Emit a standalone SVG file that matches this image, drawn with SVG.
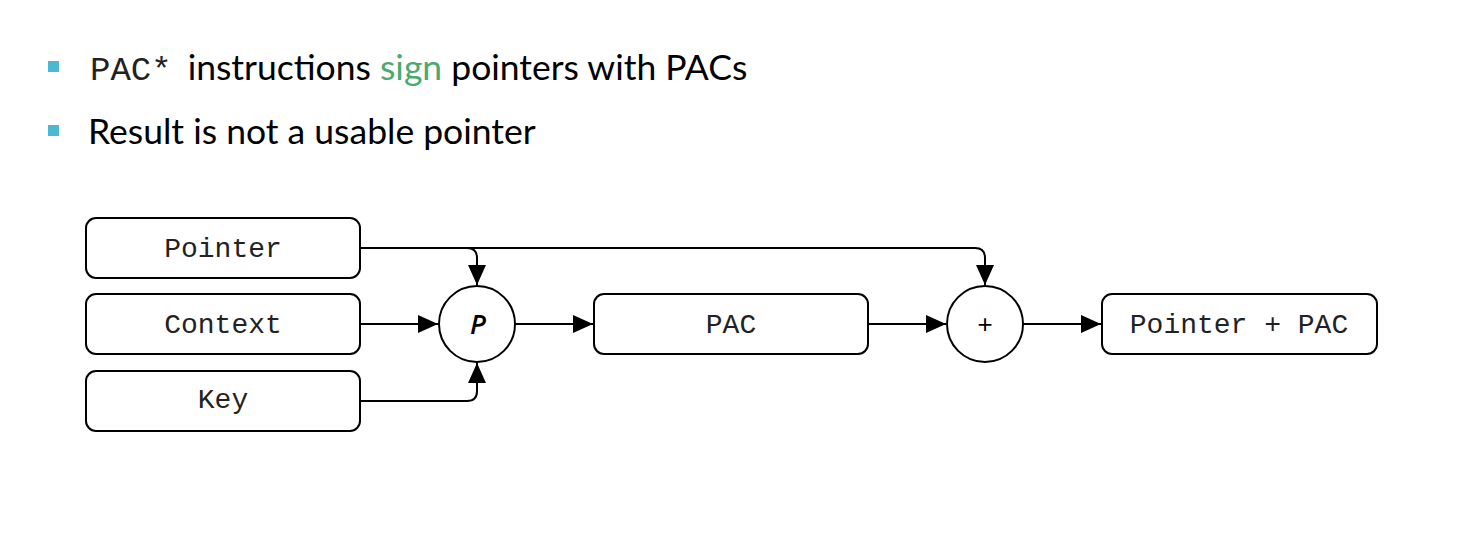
<svg xmlns="http://www.w3.org/2000/svg" width="1474" height="538" viewBox="0 0 1474 538">
<style>
.box{fill:#fff;stroke:#000;stroke-width:2}
.mono{font-family:"Liberation Mono","Courier New",monospace;font-size:28px;fill:#222;text-anchor:middle}
.hd{font-family:Lato,"Open Sans",sans-serif;font-size:35.5px;fill:#000}
.green{fill:#4aa96c}
.ln{fill:none;stroke:#000;stroke-width:2}
.bul{fill:#4bb8d4}
</style>
<defs>
<marker id="ah" markerWidth="20" markerHeight="18" refX="20" refY="9" orient="auto" markerUnits="userSpaceOnUse">
<path d="M0,0 L20,9 L0,18 Z" fill="#000"/>
</marker>
</defs>
<rect width="1474" height="538" fill="#fff"/>
<g id="header">
<rect class="bul" x="48" y="61" width="11" height="11"/>
<text x="90" y="80"><tspan font-family="Liberation Mono,monospace" font-size="34" fill="#222">PAC*</tspan><tspan class="hd" dx="16">instructions </tspan><tspan class="hd green">sign</tspan><tspan class="hd"> pointers with PACs</tspan></text>
<rect class="bul" x="48" y="125" width="11" height="11"/>
<text class="hd" x="88" y="144">Result is not a usable pointer</text>
</g>
<g id="connectors">
<path class="ln" d="M361,248 H467 Q477,248 477,258 V285" marker-end="url(#ah)"/>
<path class="ln" d="M467,248 H975 Q985,248 985,258 V285" marker-end="url(#ah)"/>
<path class="ln" d="M361,324 H438" marker-end="url(#ah)"/>
<path class="ln" d="M361,401 H467 Q477,401 477,391 V363" marker-end="url(#ah)"/>
<path class="ln" d="M515,324 H593" marker-end="url(#ah)"/>
<path class="ln" d="M869,324 H946" marker-end="url(#ah)"/>
<path class="ln" d="M1023,324 H1101" marker-end="url(#ah)"/>
</g>
<g id="pointer"><rect class="box" x="86" y="218" width="274" height="60" rx="10"/><text class="mono" x="223" y="257">Pointer</text></g>
<g id="context"><rect class="box" x="86" y="294" width="274" height="60" rx="10"/><text class="mono" x="223" y="333">Context</text></g>
<g id="key"><rect class="box" x="86" y="371" width="274" height="60" rx="10"/><text class="mono" x="223" y="408">Key</text></g>
<g id="p-func"><circle class="box" cx="477" cy="324" r="38"/><text x="478" y="334" font-family="Open Sans,sans-serif" font-style="italic" font-weight="600" font-size="27" text-anchor="middle">P</text></g>
<g id="pac"><rect class="box" x="594" y="294" width="274" height="60" rx="10"/><text class="mono" x="731" y="333">PAC</text></g>
<g id="plus"><circle class="box" cx="985" cy="324" r="38"/><text x="985" y="333" font-family="Liberation Mono,monospace" font-size="26" text-anchor="middle">+</text></g>
<g id="result"><rect class="box" x="1102" y="294" width="275" height="60" rx="10"/><text class="mono" x="1239" y="333">Pointer + PAC</text></g>
</svg>
